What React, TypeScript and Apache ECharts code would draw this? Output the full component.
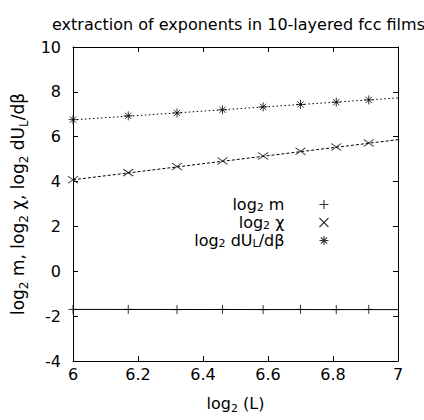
import React, { useEffect, useRef } from 'react';
import * as echarts from 'echarts';

const titleText = 'extraction of exponents in 10-layered fcc films';

// x positions: log2(L) for L = 64, 72, 80, 88, 96, 104, 112, 120
const log2L = [6, 6.17, 6.32, 6.46, 6.585, 6.7, 6.81, 6.91];
const log2M = [-1.7, -1.7, -1.71, -1.7, -1.71, -1.7, -1.71, -1.7];
const log2Chi = [4.08, 4.4, 4.67, 4.92, 5.14, 5.35, 5.54, 5.72];
const log2DU = [6.76, 6.93, 7.06, 7.2, 7.33, 7.44, 7.54, 7.64];

// fitted straight lines, end points
const fitX = [6, 7];
const fitM = [-1.7, -1.71];
const fitChi = [4.08, 5.87];
const fitDU = [6.75, 7.73];

const xMin = 6, xMax = 7, xStep = 0.2;
const yMin = -4, yMax = 10, yStep = 2;

const FONT = 'DejaVu Sans';

const PLUS = 'path://M0,5L10,5M5,0L5,10';
const CROSS = 'path://M0,0L10,10M0,10L10,0';
const STAR = 'path://M0,5L10,5M5,0L5,10M1.5,1.5L8.5,8.5M1.5,8.5L8.5,1.5';

const sub = { fontSize: 11, lineHeight: 10, verticalAlign: 'bottom', fontFamily: FONT, color: '#000' };
const subY = { fontSize: 12, lineHeight: 10, verticalAlign: 'bottom', fontFamily: FONT, color: '#000' };

const legendLabels: Record<string, string> = {
  m: 'log{s|2} m',
  chi: 'log{s|2} χ',
  dU: 'log{s|2} dU{s|L}/dβ',
};

function pairs(xs: number[], ys: number[]) {
  return xs.map((x, i) => [x, ys[i]]);
}

export default function App() {
  const ref = useRef<HTMLDivElement>(null);
  useEffect(() => {
    if (!ref.current) return;
    const chart = echarts.init(ref.current, undefined, { renderer: 'svg' });
    const axisLine = { show: true, onZero: false, lineStyle: { color: '#000', width: 1 } };
    const tick = { show: true, inside: true, length: 5, lineStyle: { color: '#000', width: 1 } };
    const label = { color: '#000', fontFamily: FONT, fontSize: 16 };
    const markStyle = { color: '#000', borderColor: '#000', borderWidth: 1 };
    chart.setOption({
      animation: false,
      backgroundColor: '#fff',
      title: {
        text: titleText,
        left: 47,
        top: 11,
        textStyle: { fontFamily: FONT, fontSize: 16, fontWeight: 'normal', color: '#000' },
      },
      grid: { left: 73, right: 26, top: 47, bottom: 59, outerBoundsMode: 'none', containLabel: false },
      legend: {
        data: ['m', 'chi', 'dU'],
        orient: 'vertical',
        align: 'right',
        right: 90,
        top: 191,
        itemWidth: 9,
        itemHeight: 9,
        itemGap: 1,
        selectedMode: false,
        itemStyle: { color: '#000', borderColor: '#000', borderWidth: 1.1 },
        formatter: (n: string) => legendLabels[n],
        textStyle: {
          fontFamily: FONT, fontSize: 16, color: '#000', lineHeight: 17,
          padding: [0, 30, 0, 0],
          rich: { s: sub },
        },
      },
      xAxis: [
        {
          type: 'value', min: xMin, max: xMax, interval: xStep,
          name: 'log{s|2} (L)', nameLocation: 'middle', nameGap: 31,
          nameTextStyle: { fontFamily: FONT, fontSize: 16, color: '#000', lineHeight: 22, rich: { s: sub } },
          axisLine, axisTick: tick,
          axisLabel: { ...label, margin: 5, formatter: (v: number) => String(Math.round(v * 10) / 10) },
          splitLine: { show: false },
        },
        {
          type: 'value', position: 'top', min: xMin, max: xMax, interval: xStep,
          axisLine, axisTick: tick, axisLabel: { show: false }, splitLine: { show: false },
        },
      ],
      yAxis: [
        {
          type: 'value', min: yMin, max: yMax, interval: yStep,
          name: 'log{s|2} m, log{s|2} χ, log{s|2} dU{s|L}/dβ', nameLocation: 'middle', nameGap: 38,
          nameTextStyle: { fontFamily: FONT, fontSize: 17, color: '#000', lineHeight: 23, rich: { s: subY } },
          axisLine, axisTick: tick,
          axisLabel: { ...label, margin: 12 },
          splitLine: { show: false },
        },
        {
          type: 'value', position: 'right', min: yMin, max: yMax, interval: yStep,
          axisLine, axisTick: tick, axisLabel: { show: false }, splitLine: { show: false },
        },
      ],
      series: [
        {
          name: 'm', type: 'scatter', symbol: PLUS, symbolSize: 9,
          itemStyle: markStyle, data: pairs(log2L, log2M), z: 5,
        },
        {
          name: 'chi', type: 'scatter', symbol: CROSS, symbolSize: [10, 7],
          itemStyle: markStyle, data: pairs(log2L, log2Chi), z: 5,
        },
        {
          name: 'dU', type: 'scatter', symbol: STAR, symbolSize: 9,
          itemStyle: markStyle, data: pairs(log2L, log2DU), z: 5,
        },
        {
          name: 'fitM', type: 'line', showSymbol: false, symbol: 'none',
          lineStyle: { color: '#000', width: 1, type: 'solid' }, data: pairs(fitX, fitM),
        },
        {
          name: 'fitChi', type: 'line', showSymbol: false, symbol: 'none',
          lineStyle: { color: '#000', width: 1, type: [3, 2] }, data: pairs(fitX, fitChi),
        },
        {
          name: 'fitDU', type: 'line', showSymbol: false, symbol: 'none',
          lineStyle: { color: '#000', width: 1, type: [1.5, 2.5] }, data: pairs(fitX, fitDU),
        },
      ],
    });
    return () => chart.dispose();
  }, []);
  return <div ref={ref} style={{ position: 'fixed', left: 0, top: 0, width: 424, height: 420 }} />;
}
